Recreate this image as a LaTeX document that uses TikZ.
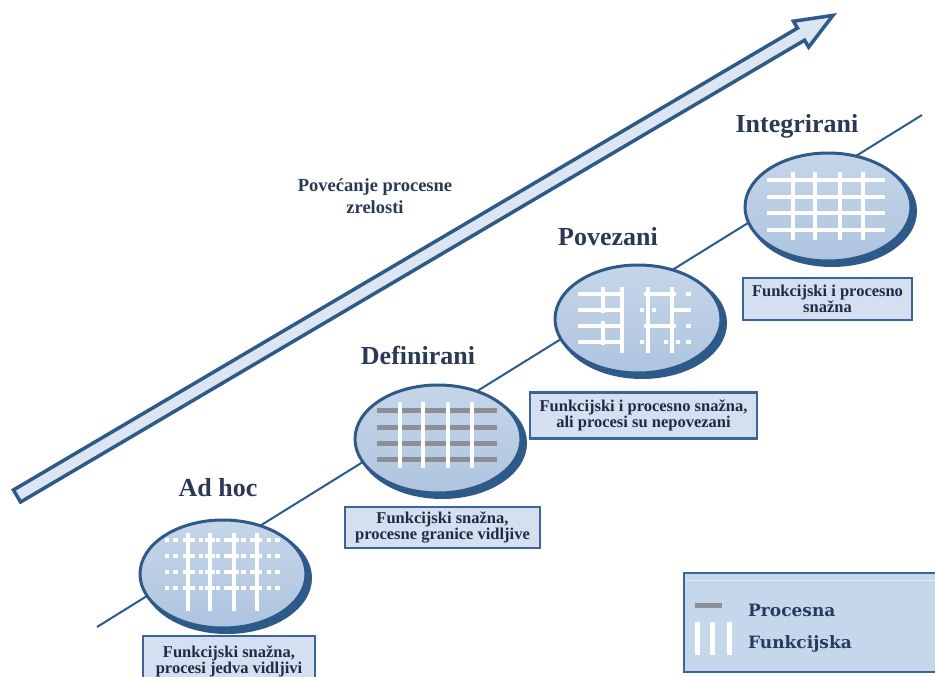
\documentclass[tikz,border=0pt]{standalone}
\usepackage{fontspec}
\setmainfont{Liberation Serif}
\newfontfamily\legfont{DejaVu Serif}
\usetikzlibrary{shapes.geometric}
\definecolor{dkblue}{HTML}{2E5A8A}
\definecolor{arrfill}{HTML}{DCE6F2}
\definecolor{elltop}{HTML}{C6D6EA}
\definecolor{ellbot}{HTML}{AEC4DF}
\definecolor{boxfill}{HTML}{D4E0EF}
\definecolor{boxline}{HTML}{3B6598}
\definecolor{legfill}{HTML}{C6D7EB}
\definecolor{procgray}{HTML}{8D8F96}
\definecolor{txtdark}{HTML}{1F2B45}
\definecolor{titlec}{HTML}{2A3954}
\definecolor{legtext}{HTML}{253B62}
\begin{document}
\begin{tikzpicture}[x=1pt,y=-1pt,
  arrowshape/.style={draw=dkblue, fill=arrfill, line width=3.5pt, line join=miter},
  stairline/.style={draw=dkblue, line width=2pt},
  stage/.style={ellipse, draw=dkblue, line width=3pt, minimum width=166pt, minimum height=108pt, inner sep=0pt, top color=elltop, bottom color=ellbot},
  stageshadow/.style={fill=dkblue},
  title/.style={text=titlec, font=\fontsize{26}{30}\selectfont\bfseries, anchor=base},
  infobox/.style={rectangle, draw=boxline, line width=2.5pt, fill=boxfill, text=txtdark, align=center, inner sep=0pt, font=\fontsize{16.5}{16}\selectfont\bfseries},
  legbox/.style={rectangle, draw=boxline, line width=2.2pt, fill=legfill, inner sep=0pt},
  legtxt/.style={text=legtext, font=\legfont\fontsize{17}{20}\selectfont\bfseries, anchor=base west, inner sep=0pt},
  wbar/.style={draw=white, line width=4.5pt},
  gbar/.style={draw=procgray, line width=5pt},
  wdot/.style={fill=white}
]
\useasboundingbox (0,0) rectangle (935,677);
\clip (0,0) rectangle (935,677);

% big arrow
\begin{scope}[shift={(17,496)}, rotate=30.5]
  \draw[arrowshape] (0,-7) -- (910,-7) -- (910,-15) -- (947,0) -- (910,15) -- (910,7) -- (0,7) -- cycle;
\end{scope}
\node[text=titlec, font=\fontsize{18.5}{22}\selectfont\bfseries, align=center, inner sep=0pt] (mat) at (375,196) {Povećanje procesne\\zrelosti};

% stair line
\coordinate (ls) at (97,627);
\coordinate (le) at (922,115);
\draw[stairline] (ls) -- (le);

% ellipses
\fill[stageshadow] (227,578) ellipse [x radius=85, y radius=56];
\node[stage] (e1) at (223,574) {};
\fill[stageshadow] (442,443) ellipse [x radius=85, y radius=56];
\node[stage] (e2) at (438,439) {};
\fill[stageshadow] (642,323) ellipse [x radius=85, y radius=56];
\node[stage] (e3) at (638,319) {};
\fill[stageshadow] (832,211) ellipse [x radius=85, y radius=56];
\node[stage] (e4) at (828,207) {};

% pattern: Ad hoc
\foreach \yy in {540,556,572,588}
  \foreach \xx in {167,175.5,192.5,201,218,226.5,243.5,252,269,277.5}
    \fill[wdot] (\xx-2.2,\yy-2.2) rectangle ++(4.4,4.4);
\foreach \yy in {540,556,572,588}
  \foreach \xx in {188,210,234,257}
    \fill[wdot] (\xx-5,\yy-1.8) rectangle ++(10,3.6);
\foreach \xx in {188,210,234,257} \draw[wbar] (\xx,533) -- (\xx,611);

% pattern: Definirani
\foreach \yy in {410,427,443,459} \draw[gbar] (377,\yy) -- (497,\yy);
\foreach \xx in {400,423,448,472} \draw[wbar] (\xx,402) -- (\xx,468);

% pattern: Povezani
\foreach \yy in {294,310,326,342} \draw[wbar] (578,\yy) -- (624,\yy);
\draw[wbar] (622,287) -- (622,353);
\draw[wbar] (603,287) -- (603,313);
\draw[wbar] (603,321) -- (603,345);
\draw[wbar] (648,287) -- (648,353);
\draw[wbar] (672,287) -- (672,353);
\draw[wbar] (644,294) -- (676,294);
\draw[wbar] (644,326) -- (676,326);
\draw[wbar] (672,310) -- (691,310);
\foreach \pp in {(642,310),(642,342),(678,342),(654,310),(666,342)} \fill[wdot] \pp ++(-2.2,-2.2) rectangle ++(4.4,4.4);
\foreach \yy in {294,326,342} \fill[wdot] (686,\yy-2.2) rectangle ++(4.5,4.4);

% pattern: Integrirani
\foreach \yy in {180,197,213,230} \draw[wbar] (767,\yy) -- (885,\yy);
\foreach \xx in {793,815,840,863} \draw[wbar] (\xx,172) -- (\xx,240);

% titles
\node[title] (t1) at (218,496) {Ad hoc};
\node[title] (t2) at (418,364) {Definirani};
\node[title] (t3) at (608,245) {Povezani};
\node[title] (t4) at (797,132) {Integrirani};

% info boxes
\node[infobox, minimum width=172pt, minimum height=50pt] (b1) at (229,661) {Funkcijski snažna,\\procesi jedva vidljivi};
\node[infobox, minimum width=195pt, minimum height=41pt] (b2) at (442.5,527.5) {Funkcijski snažna,\\procesne granice vidljive};
\node[infobox, minimum width=227pt, minimum height=46pt] (b3) at (643.5,415.5) {Funkcijski i procesno snažna,\\ali procesi su nepovezani};
\node[infobox, minimum width=169pt, minimum height=42pt] (b4) at (827.5,299) {Funkcijski i procesno\\snažna};

% legend
\node[legbox, minimum width=262pt, minimum height=99pt] (leg) at (815,622.5) {};
\draw[draw=white!55!legfill, line width=1pt] (686,580) -- (935,580);
\draw[gbar] (695,605) -- (722,605);
\foreach \xx in {697.5,712.5,729.5} \draw[wbar] (\xx,622) -- (\xx,655);
\node[legtxt] (l1) at (748,616) {Procesna};
\node[legtxt] (l2) at (748,648) {Funkcijska};
\end{tikzpicture}
\end{document}
